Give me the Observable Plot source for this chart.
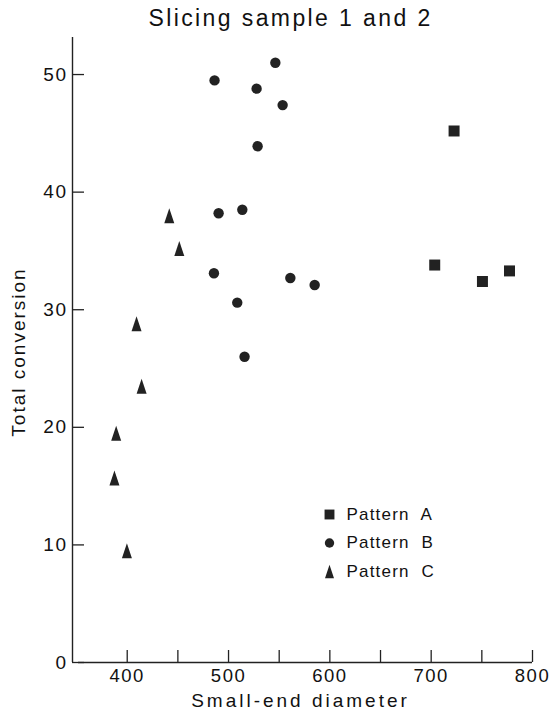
<!DOCTYPE html>
<html><head><meta charset="utf-8">
<script src="https://cdn.jsdelivr.net/npm/d3@7"></script>
<script src="https://cdn.jsdelivr.net/npm/@observablehq/plot@0.6"></script>
<style>
body{margin:0;background:#fff}
svg{display:block}
svg text{letter-spacing:1.2px}
</style>
</head><body><div id="chart"></div>
<script>
// ---- data ----
const title = "Slicing sample 1 and 2";
const xLabel = "Small-end diameter";
const yLabel = "Total conversion";
const seriesNames = ["Pattern A", "Pattern B", "Pattern C"];

const patternA_x = [722.6, 703.5, 750.6, 777.3];
const patternA_y = [45.2, 33.8, 32.4, 33.3];

const patternB_x = [486.2, 546.2, 527.7, 553.4, 528.7, 490.2, 513.6, 485.6, 561.0, 585.0, 508.6, 515.8];
const patternB_y = [49.5, 51.0, 48.8, 47.4, 43.9, 38.2, 38.5, 33.1, 32.7, 32.1, 30.6, 26.0];

const patternC_x = [441.5, 451.4, 409.2, 414.2, 389.1, 387.4, 399.7];
const patternC_y = [38.0, 35.2, 28.8, 23.5, 19.5, 15.7, 9.5];

const xTicks = [400, 450, 500, 550, 600, 650, 700, 750, 800];
const xTickLabels = [400, 500, 600, 700, 800];
const yTicks = [0, 10, 20, 30, 40, 50];
const xDomain = [346, 800];
const yDomain = [0, 53.15];

// ---- layout / style ----
const W = 556, H = 721, mL = 72, mR = 24, mT = 37, mB = 59;
const frameW = W - mL - mR, frameH = H - mT - mB;
const ink = "#222";

const narrowTriangle = {
  draw(ctx, size) {
    const r = Math.sqrt(size / Math.PI);
    const hw = r * 1.0, hh = r * 1.5;
    ctx.moveTo(0, -hh);
    ctx.lineTo(hw, hh);
    ctx.lineTo(-hw, hh);
    ctx.closePath();
  }
};
const symbols = [ "square", "circle", narrowTriangle ];
const radii = [6.2, 5.2, 5];
const xs = [patternA_x, patternB_x, patternC_x];
const ys = [patternA_y, patternB_y, patternC_y];

const dotMarks = seriesNames.map((name, k) =>
  Plot.dot(xs[k].map((x, i) => ({x, y: ys[k][i]})),
    {x: "x", y: "y", symbol: symbols[k], r: radii[k], fill: ink, stroke: "none"}));

const legendMarks = seriesNames.flatMap((name, i) => [
  Plot.dot([name], {frameAnchor: "top-left", dx: 257, dy: 477 + i * 28.5,
    symbol: symbols[i], r: radii[i] * 0.9, fill: ink, stroke: "none"}),
  Plot.text([name.replace(" ", "  ")], {frameAnchor: "top-left", dx: 274, dy: 477 + i * 28.5,
    textAnchor: "start", lineAnchor: "middle", fontSize: 17, fill: "#111"})
]);

const chart = Plot.plot({
  width: W, height: H,
  marginLeft: mL, marginRight: mR, marginTop: mT, marginBottom: mB,
  x: {domain: xDomain},
  y: {domain: yDomain},
  style: {fontFamily: "'Liberation Sans', Arial, Helvetica, sans-serif", color: ink, background: "#fff"},
  marks: [
    Plot.ruleX([xDomain[0]], {stroke: ink, strokeWidth: 1.4}),
    Plot.ruleY([0], {stroke: ink, strokeWidth: 1.4, insetLeft: 6}),
    Plot.tickX(xTicks, {x: d => d, insetTop: frameH - 12, stroke: ink, strokeWidth: 1.3}),
    Plot.tickY(yTicks, {y: d => d, insetRight: frameW - 12, stroke: ink, strokeWidth: 1.3}),
    Plot.axisX(xTickLabels, {tickSize: 0, tickPadding: 6, fontSize: 18.5, label: null, fill: "#111"}),
    Plot.axisY(yTicks, {tickSize: 0, tickPadding: 5, fontSize: 19, label: null, fill: "#111"}),
    Plot.text([xLabel], {frameAnchor: "bottom", dy: 38, dx: -2, textAnchor: "middle", lineAnchor: "middle", fontSize: 19, fill: "#111"}),
    Plot.text([yLabel], {frameAnchor: "left", dx: -54, dy: 2, rotate: -90, textAnchor: "middle", lineAnchor: "middle", fontSize: 19, fill: "#111"}),
    Plot.text([title], {frameAnchor: "top", dy: -19, dx: -12, textAnchor: "middle", lineAnchor: "middle", fontSize: 23, fill: "#111"}),
    ...dotMarks,
    ...legendMarks
  ]
});
// per-text letter spacing (styling only)
const spacing = {[xLabel]: "3px", [yLabel]: "2px", [title]: "2.4px"};
chart.querySelectorAll("text").forEach(t => {
  const s = spacing[t.textContent];
  if (s) t.style.letterSpacing = s;
});
chart.querySelectorAll("g[aria-label='x-axis tick label'] text, g[aria-label='y-axis tick label'] text")
  .forEach(t => t.style.letterSpacing = "1.5px");
document.getElementById("chart").append(chart);
</script>
</body></html>
